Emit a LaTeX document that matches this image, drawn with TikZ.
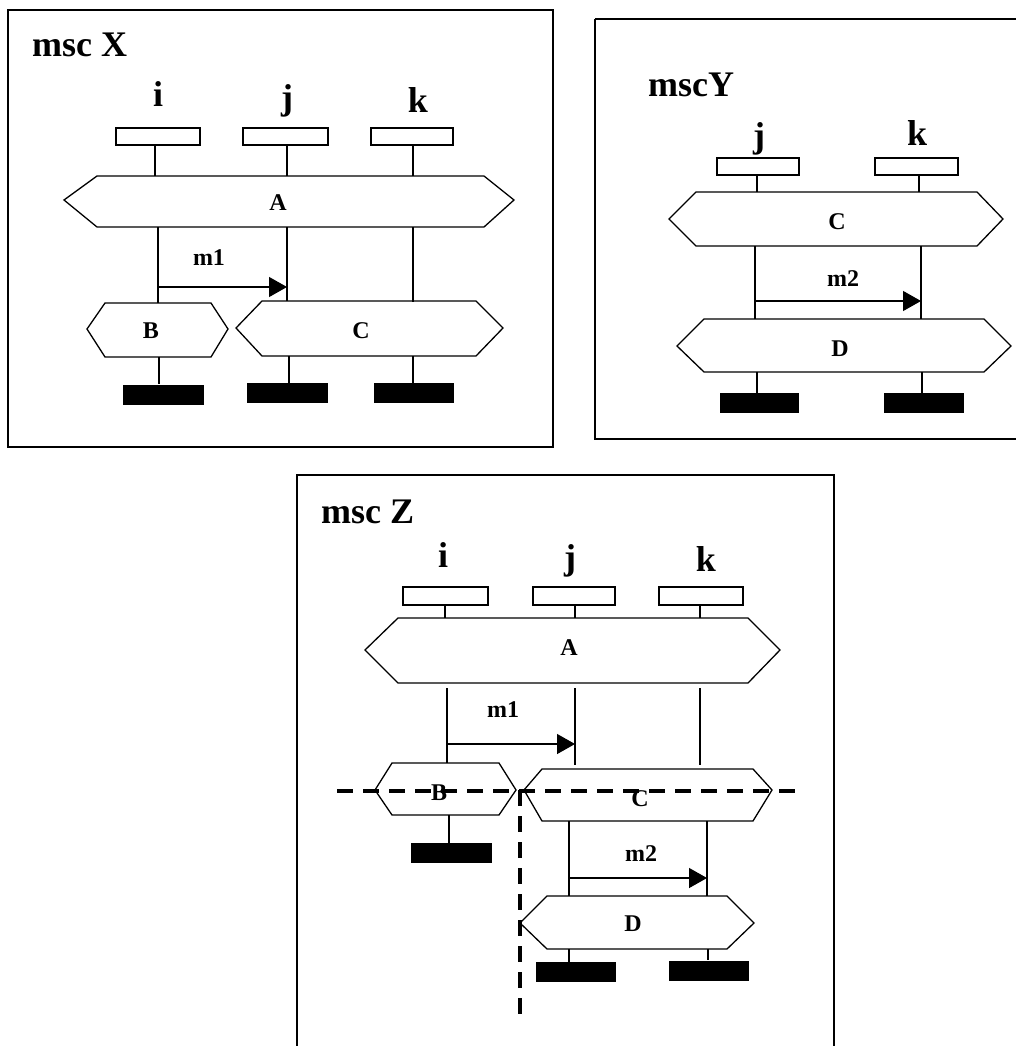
\documentclass[tikz,border=0pt]{standalone}
\usepackage{fontspec}
\setmainfont{Liberation Serif}
\usetikzlibrary{arrows.meta}
\tikzset{
  ln/.style={line width=1.3pt},
  frame/.style={line width=1.5pt},
  ibox/.style={draw, line width=1.3pt, inner sep=0pt, minimum width=84pt, minimum height=17pt},
  ebar/.style={fill=black, draw=none, inner sep=0pt, minimum width=81pt, minimum height=20pt},
  ttl/.style={anchor=base west, inner sep=0pt, font=\fontsize{36}{36}\selectfont\bfseries},
  inst/.style={anchor=base, inner sep=0pt, font=\fontsize{36}{36}\selectfont\bfseries},
  lbl/.style={anchor=base, inner sep=0pt, font=\fontsize{24}{24}\selectfont\bfseries},
  msg/.style={line width=1.3pt, -{Triangle[length=18pt,width=20pt]}},
  cut/.style={line width=4pt, dash pattern=on 16pt off 10pt},
}
\newcommand{\mschex}[7]{%
  \draw[ln] (#1,#6) -- (#2,#5) -- (#3,#5) -- (#4,#6) -- (#3,#7) -- (#2,#7) -- cycle;}
\begin{document}
\begin{tikzpicture}[x=1pt,y=-1pt]
\useasboundingbox (0,0) rectangle (1016,1046);
\fill[white] (0,0) rectangle (1016,1046);

% ================= msc X =================
\draw[frame] (8,10) rectangle (553,447);
\node[ttl] (Xt) at (32,57) {msc X};
\node[inst] (Xil) at (158,107) {i};
\node[inst] (Xjl) at (287,110) {j};
\node[inst] (Xkl) at (418,113) {k};
\node[ibox, minimum width=84pt] (Xib) at (158,136.5) {};
\node[ibox, minimum width=85pt] (Xjb) at (285.5,136.5) {};
\node[ibox, minimum width=82pt] (Xkb) at (412,136.5) {};
\draw[ln] (155,145) -- (155,176);
\draw[ln] (287,145) -- (287,176);
\draw[ln] (413,145) -- (413,176);
\mschex{64}{97}{484}{514}{176}{200}{227}
\node[lbl] (XA) at (278,210) {A};
\draw[ln] (158,227) -- (158,303);
\draw[ln] (287,227) -- (287,301);
\draw[ln] (413,227) -- (413,302);
\coordinate (Xm1s) at (158,287);
\coordinate (Xm1e) at (287,287);
\draw[msg] (Xm1s) -- (Xm1e);
\node[lbl] (Xm1) at (209,265) {m1};
\mschex{87}{105}{211}{228}{303}{329}{357}
\node[lbl] (XB) at (151,338) {B};
\mschex{236}{262}{476}{503}{301}{328}{356}
\node[lbl] (XC) at (361,338) {C};
\draw[ln] (159,357) -- (159,384);
\draw[ln] (289,356) -- (289,383);
\draw[ln] (413,356) -- (413,383);
\node[ebar] (Xie) at (163.5,394.5) {};
\node[ebar] (Xje) at (287.5,393) {};
\node[ebar, minimum width=80pt] (Xke) at (414,393) {};

% ================= msc Y =================
\draw[frame] (595,19) -- (1030,19) (1030,439) -- (595,439) -- (595,19);
\node[ttl] (Yt) at (648,97) {mscY};
\node[inst] (Yjl) at (759,147) {j};
\node[inst] (Ykl) at (917,146) {k};
\node[ibox, minimum width=82pt] (Yjb) at (758,166.5) {};
\node[ibox, minimum width=83pt] (Ykb) at (916.5,166.5) {};
\draw[ln] (757,175) -- (757,192);
\draw[ln] (919,175) -- (919,192);
\mschex{669}{696}{977}{1003}{192}{219}{246}
\node[lbl] (YC) at (837,229) {C};
\draw[ln] (755,246) -- (755,319);
\draw[ln] (921,246) -- (921,319);
\coordinate (Ym2s) at (755,301);
\coordinate (Ym2e) at (921,301);
\draw[msg] (Ym2s) -- (Ym2e);
\node[lbl] (Ym2) at (843,286) {m2};
\mschex{677}{704}{984}{1011}{319}{346}{372}
\node[lbl] (YD) at (840,356) {D};
\draw[ln] (757,372) -- (757,393);
\draw[ln] (922,372) -- (922,393);
\node[ebar, minimum width=79pt] (Yje) at (759.5,403) {};
\node[ebar, minimum width=80pt] (Yke) at (924,403) {};

% ================= msc Z =================
\draw[frame] (297,1060) -- (297,475) -- (834,475) -- (834,1060);
\node[ttl] (Zt) at (321,523) {msc Z};
\node[inst] (Zil) at (443,567) {i};
\node[inst] (Zjl) at (570,569) {j};
\node[inst] (Zkl) at (706,571) {k};
\node[ibox, minimum width=85pt, minimum height=18pt] (Zib) at (445.5,596) {};
\node[ibox, minimum width=82pt, minimum height=18pt] (Zjb) at (574,596) {};
\node[ibox, minimum width=84pt, minimum height=18pt] (Zkb) at (701,596) {};
\draw[ln] (445,605) -- (445,618);
\draw[ln] (575,605) -- (575,618);
\draw[ln] (700,605) -- (700,618);
\mschex{365}{398}{748}{780}{618}{650}{683}
\node[lbl] (ZA) at (569,655) {A};
\draw[ln] (447,688) -- (447,763);
\draw[ln] (575,688) -- (575,765);
\draw[ln] (700,688) -- (700,765);
\coordinate (Zm1s) at (447,744);
\coordinate (Zm1e) at (575,744);
\draw[msg] (Zm1s) -- (Zm1e);
\node[lbl] (Zm1) at (503,717) {m1};
\mschex{375}{392}{499}{516}{763}{790}{815}
\node[lbl] (ZB) at (439,800) {B};
\mschex{524}{542}{753}{772}{769}{790}{821}
\node[lbl] (ZC) at (640,806) {C};
\draw[ln] (449,815) -- (449,843);
\node[ebar] (Zie) at (451.5,853) {};
\draw[ln] (569,821) -- (569,896);
\draw[ln] (707,821) -- (707,896);
\coordinate (Zm2s) at (569,878);
\coordinate (Zm2e) at (707,878);
\draw[msg] (Zm2s) -- (Zm2e);
\node[lbl] (Zm2) at (641,861) {m2};
\mschex{520}{547}{727}{754}{896}{923}{949}
\node[lbl] (ZD) at (633,931) {D};
\draw[ln] (569,949) -- (569,962);
\draw[ln] (708,949) -- (708,960);
\node[ebar, minimum width=80pt] (Zje) at (576,972) {};
\node[ebar, minimum width=80pt] (Zke) at (709,970.5) {};
% cut lines
\coordinate (Zh1) at (337,791);
\coordinate (Zh2) at (804,791);
\coordinate (Zv1) at (520,790);
\coordinate (Zv2) at (520,1017);
\draw[cut] (Zh1) -- (Zh2);
\draw[cut] (Zv1) -- (Zv2);
\end{tikzpicture}
\end{document}
